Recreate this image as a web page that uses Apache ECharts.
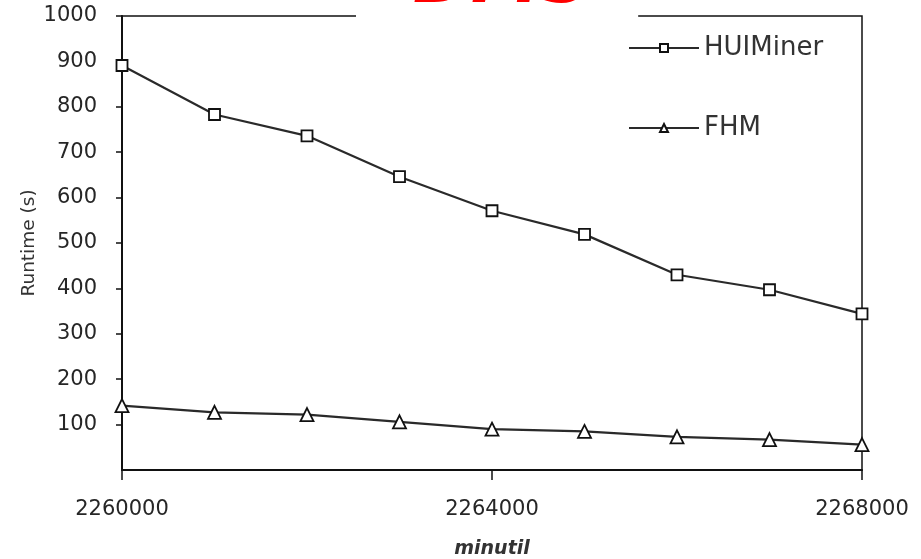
<!DOCTYPE html>
<html>
<head>
<meta charset="utf-8">
<script src="https://cdn.jsdelivr.net/npm/echarts@6/dist/echarts.min.js"></script>
<style>html,body{margin:0;padding:0;background:#fff}#c{width:921px;height:559px}</style>
</head>
<body>
<div id="c"></div>
<script>
const minutil = [2260000, 2261000, 2262000, 2263000, 2264000, 2265000, 2266000, 2267000, 2268000];
const huiminer = [891, 783, 736, 646, 571, 519, 430, 397, 344];
const fhm = [142, 127, 122, 106, 90, 85, 73, 67, 56];
const xTicks = [2260000, 2264000, 2268000];

const chart = echarts.init(document.getElementById('c'));
const font = 'DejaVu Sans';
chart.setOption({
  animation: false,
  backgroundColor: '#fff',
  title: {
    text: 'DMS',
    left: 356,
    top: -51,
    padding: [0, 47, 0, 57],
    backgroundColor: '#fff',
    textStyle: { color: '#ff0000', fontSize: 70, fontStyle: 'italic', fontWeight: 'bold', fontFamily: font, lineHeight: 70 }
  },
  legend: {
    orient: 'vertical',
    left: 628,
    top: 33,
    padding: 0,
    itemWidth: 70,
    itemHeight: 10,
    itemGap: 50,
    textStyle: { fontFamily: font, fontSize: 26, color: '#333', lineHeight: 30, padding: [0, 0, 0, 0] },
    data: ['HUIMiner', 'FHM']
  },
  grid: { left: 122, right: 59, top: 16, bottom: 89, outerBoundsMode: 'none', containLabel: false, show: true, borderColor: '#111', borderWidth: 1.5, backgroundColor: 'transparent' },
  xAxis: {
    type: 'value',
    min: xTicks[0],
    max: xTicks[xTicks.length - 1],
    interval: 4000,
    name: 'minutil',
    nameLocation: 'middle',
    nameMoveOverlap: false,
    nameGap: 70,
    nameTextStyle: { fontFamily: font, fontSize: 19, fontStyle: 'italic', fontWeight: 'bold', color: '#333' },
    axisLine: { lineStyle: { color: '#111', width: 2 } },
    axisTick: { length: 10, lineStyle: { color: '#111', width: 1.5 } },
    axisLabel: { fontFamily: font, fontSize: 21, color: '#262626', margin: 29, formatter: v => String(v) },
    splitLine: { show: false }
  },
  yAxis: {
    type: 'value',
    min: 0,
    max: 1000,
    interval: 100,
    name: 'Runtime (s)',
    nameLocation: 'middle',
    nameMoveOverlap: false,
    nameGap: 83,
    nameTextStyle: { fontFamily: font, fontSize: 18.5, color: '#333' },
    axisLine: { show: true, lineStyle: { color: '#111', width: 2 } },
    axisTick: { show: true, length: 6, lineStyle: { color: '#111', width: 1.5 } },
    axisLabel: { fontFamily: font, fontSize: 21, color: '#262626', margin: 25, showMinLabel: false, formatter: v => String(v) },
    splitLine: { show: false }
  },
  series: [
    {
      name: 'HUIMiner', type: 'line',
      data: minutil.map((x, i) => [x, huiminer[i]]),
      symbol: 'rect', symbolSize: 11,
      lineStyle: { color: '#2a2a2a', width: 2.2 },
      itemStyle: { color: '#fff', borderColor: '#111', borderWidth: 1.8 }
    },
    {
      name: 'FHM', type: 'line',
      data: minutil.map((x, i) => [x, fhm[i]]),
      symbol: 'triangle', symbolSize: [13, 13],
      lineStyle: { color: '#2a2a2a', width: 2.2 },
      itemStyle: { color: '#fff', borderColor: '#111', borderWidth: 1.8 }
    }
  ]
});
</script>
</body>
</html>
